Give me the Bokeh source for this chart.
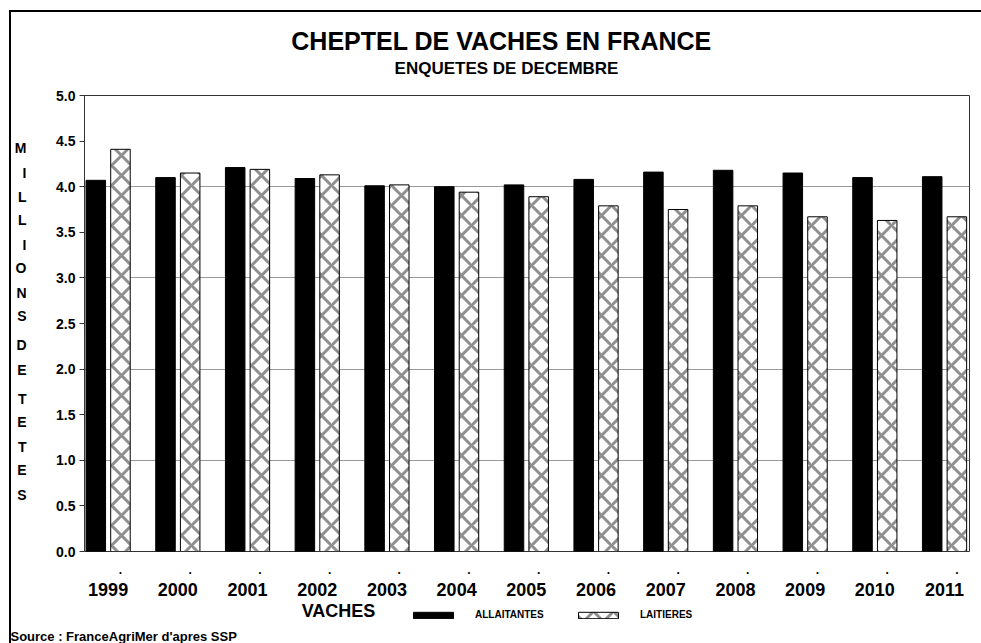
from bokeh.plotting import figure
from bokeh.layouts import column
from bokeh.models import (Range1d, FixedTicker, LinearAxis, Legend, LegendItem, Title, Label,
                          ColumnDataSource, PrintfTickFormatter, CustomJSTickFormatter)
from bokeh.transform import dodge
from bokeh.embed import file_html
from bokeh.resources import INLINE

# ---------------- data ----------------
years = ["1999", "2000", "2001", "2002", "2003", "2004", "2005",
         "2006", "2007", "2008", "2009", "2010", "2011"]
allaitantes = [4.07, 4.10, 4.21, 4.09, 4.01, 4.00, 4.02, 4.08, 4.16, 4.18, 4.15, 4.10, 4.11]
laitieres = [4.41, 4.15, 4.19, 4.13, 4.02, 3.94, 3.89, 3.79, 3.75, 3.79, 3.67, 3.63, 3.67]
y_ticks = [0.0, 0.5, 1.0, 1.5, 2.0, 2.5, 3.0, 3.5, 4.0, 4.5, 5.0]
grid_values = [1.0, 2.0, 3.0, 4.0]
title_text = "CHEPTEL DE VACHES EN FRANCE"
subtitle_text = "ENQUETES DE DECEMBRE"
y_title = "MILLIONS DE TETES"
legend_title = "VACHES"
series_names = ["ALLAITANTES", "LAITIERES"]
source_text = "Source : FranceAgriMer d'apres SSP"

FONT = "Liberation Sans"
idx = list(range(len(years)))
OFF = 0.177
BW = 0.28
FRAME_H = 456
PX_PER_UNIT = FRAME_H / 5.0
H0 = 73        # title strip height
TOP = 10       # frame top in main canvas px
H1 = 514       # main figure height
H2 = 44        # legend strip height
W = 970
FRAME_BOTTOM_PIC = 551   # frame bottom in picture px (for the letter layout)

BLACK_STYLE = dict(fill_color="black", line_color="black", line_width=1)
HATCH_STYLE = dict(fill_color="white", line_color="black", line_width=1,
                   hatch_pattern="x", hatch_color="#8f8f8f", hatch_scale=20, hatch_weight=3)

src = ColumnDataSource(dict(xi=idx, a=allaitantes, l=laitieres))

# ---------------- title strip ----------------
t = figure(width=W, height=H0, x_range=Range1d(0, 1), y_range=Range1d(0, 1),
           output_backend="svg", toolbar_location=None,
           x_axis_location=None, y_axis_location=None,
           min_border=0, min_border_left=0, min_border_right=0,
           min_border_top=0, min_border_bottom=0)
t.outline_line_color = None
t.grid.grid_line_color = None
t.add_layout(Label(x=417, y=45, x_units="screen", y_units="screen", text=title_text,
                   text_align="center", text_baseline="middle", text_font=FONT,
                   text_color="black", text_font_style="bold", text_font_size="25px"))
t.add_layout(Label(x=422, y=17, x_units="screen", y_units="screen", text=subtitle_text,
                   text_align="center", text_baseline="middle", text_font=FONT,
                   text_color="black", text_font_style="bold", text_font_size="17px"))

# ---------------- main chart ----------------
p = figure(width=W, height=H1,
           x_range=Range1d(-0.339, 12.358), y_range=Range1d(0, 5),
           output_backend="svg", toolbar_location=None,
           x_axis_location=None,
           min_border_left=73, min_border_right=12,
           min_border_top=TOP, min_border_bottom=H1 - TOP - FRAME_H)
p.background_fill_color = "white"
p.border_fill_color = "white"
p.outline_line_color = "#333333"
p.outline_line_width = 1

ya = p.yaxis[0]
ya.ticker = FixedTicker(ticks=y_ticks)
ya.formatter = PrintfTickFormatter(format="%.1f")
ya.major_label_text_font = FONT
ya.major_label_text_font_style = "bold"
ya.major_label_text_font_size = "14px"
ya.major_label_text_color = "black"
ya.major_tick_out = 5
ya.major_tick_in = 0
ya.major_tick_line_color = "#333333"
ya.minor_tick_line_color = None
ya.axis_line_color = "#333333"
ya.major_label_standoff = 4

# vertical y title: one letter per line, drawn as labels of an outer left axis
letters = []
letter_ticks = []
ypos = 148.0  # picture px of first letter centre
for word_i, word in enumerate(y_title.split(" ")):
    if word_i > 0:
        ypos += 5
    for ch in word:
        letters.append(ch)
        letter_ticks.append(round((FRAME_BOTTOM_PIC - ypos) / PX_PER_UNIT, 4))
        ypos += 24
order = sorted(range(len(letters)), key=lambda k: letter_ticks[k])
letters_sorted = [letters[k] for k in order]
ticks_sorted = [letter_ticks[k] for k in order]
title_axis = LinearAxis(ticker=FixedTicker(ticks=ticks_sorted),
                        formatter=CustomJSTickFormatter(args=dict(letters=letters_sorted),
                                                        code="return letters[index];"),
                        axis_line_color=None, major_tick_line_color=None,
                        minor_tick_line_color=None,
                        major_label_text_font=FONT, major_label_text_font_style="bold",
                        major_label_text_color="black",
                        major_label_text_font_size="14px", major_label_standoff=21)
p.add_layout(title_axis, "left")

p.ygrid.ticker = FixedTicker(ticks=grid_values)
p.ygrid.grid_line_color = "#999999"
p.ygrid.grid_line_width = 1
p.xgrid.grid_line_color = None

r_a = p.vbar(x=dodge("xi", -OFF, range=p.x_range), top="a", bottom=0, width=BW, source=src,
             **BLACK_STYLE)
r_l = p.vbar(x=dodge("xi", OFF, range=p.x_range), top="l", bottom=0, width=BW, source=src,
             **HATCH_STYLE)

dot_axis = LinearAxis(ticker=FixedTicker(ticks=[i + OFF for i in idx]),
                      formatter=PrintfTickFormatter(format="."),
                      axis_line_color=None, major_tick_line_color=None,
                      minor_tick_line_color=None,
                      major_label_text_font=FONT, major_label_text_font_style="bold",
                      major_label_text_color="black",
                      major_label_text_font_size="12px", major_label_standoff=7)
p.add_layout(dot_axis, "below")
year_axis = LinearAxis(ticker=FixedTicker(ticks=idx),
                       major_label_overrides={i: y for i, y in zip(idx, years)},
                       axis_line_color=None, major_tick_line_color=None,
                       minor_tick_line_color=None,
                       major_label_text_font=FONT, major_label_text_font_style="bold",
                       major_label_text_color="black",
                       major_label_text_font_size="18px", major_label_standoff=0)
p.add_layout(year_axis, "below")

# ---------------- legend strip ----------------
# hidden proxy renderers (same data and styles) that only provide the legend swatches
q = figure(width=W, height=H2, x_range=Range1d(-0.339, 12.358), y_range=Range1d(0, 5),
           output_backend="svg", toolbar_location=None,
           x_axis_location=None, y_axis_location=None,
           min_border=0, min_border_left=0, min_border_right=0,
           min_border_top=0, min_border_bottom=0)
q.outline_line_color = None
q.grid.grid_line_color = None
q.background_fill_color = "white"
q.border_fill_color = "white"
k_a = q.vbar(x="xi", top="a", bottom=0, width=BW, source=src, visible=False, **BLACK_STYLE)
k_l = q.vbar(x="xi", top="l", bottom=0, width=BW, source=src, visible=False, **HATCH_STYLE)
legend = Legend(items=[LegendItem(label=series_names[0], renderers=[k_a], index=0),
                       LegendItem(label=series_names[1], renderers=[k_l], index=0)],
                location=(324, 6), orientation="horizontal",
                glyph_width=50, glyph_height=8, label_standoff=17, label_width=98,
                spacing=0, padding=0, margin=0, border_line_color=None,
                background_fill_alpha=0, inactive_fill_alpha=0,
                label_text_font=FONT, label_text_font_style="bold",
                label_text_color="black",
                label_text_font_size="10px", label_height=8)
q.add_layout(legend, "center")
q.add_layout(Label(x=254, y=16, x_units="screen", y_units="screen", text=legend_title,
                   text_align="center", text_baseline="middle", text_font=FONT,
                   text_color="black",
                   text_font_style="bold", text_font_size="18px"))
q.add_layout(Title(text=source_text, align="left", offset=-74, standoff=0,
                   text_color="black",
                   text_font=FONT, text_font_style="bold", text_font_size="13px"), "below")

page = column(t, p, q, spacing=0)
page.styles = {"margin-left": "9px", "margin-top": "10px",
               "border-left": "2px solid black", "border-top": "2px solid black"}

open("out.html", "w").write(file_html(page, INLINE))
